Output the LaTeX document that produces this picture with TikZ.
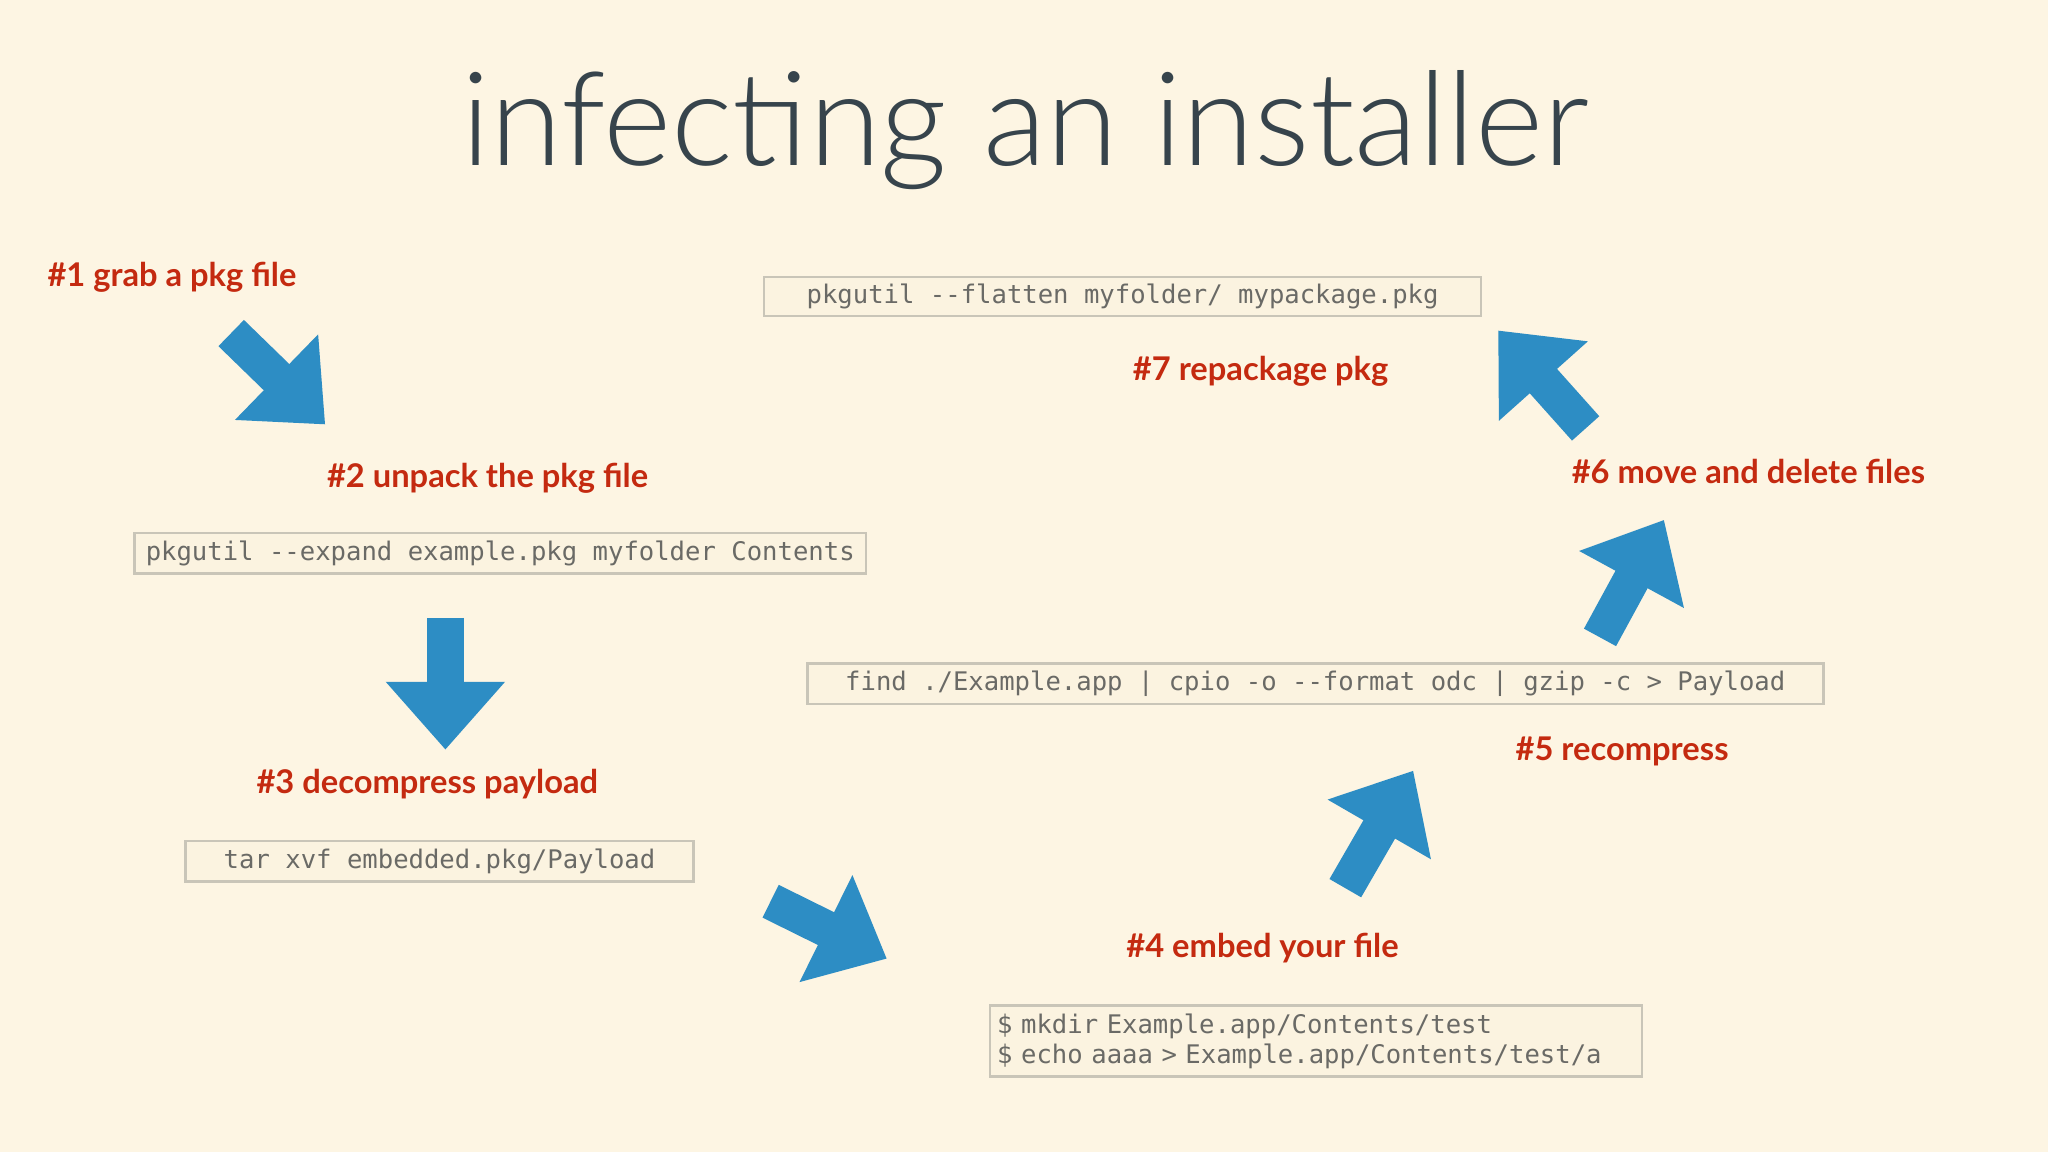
\documentclass[tikz,border=0pt]{standalone}
\usepackage{fontspec}
\setmainfont{Lato}
\newfontfamily\codefont{DejaVu Sans Mono}
\newfontfamily\titlefont{Lato Light}
\usetikzlibrary{arrows.meta}
\definecolor{bg}{HTML}{FDF5E3}
\definecolor{boxfill}{HTML}{FBF3E0}
\definecolor{boxline}{HTML}{C9C5B8}
\definecolor{codegray}{HTML}{6A6A66}
\definecolor{lblred}{HTML}{C42A10}
\definecolor{arrblue}{HTML}{2D8DC4}
\definecolor{titlecol}{HTML}{37444C}
\tikzset{
 codebox/.style={draw=boxline,line width=1pt,fill=boxfill,font=\codefont\fontsize{9.8}{11.5}\selectfont,text=codegray,inner sep=0pt,align=left},
 lbl/.style={font=\bfseries\fontsize{12.5}{14}\selectfont,text=lblred,anchor=west,inner sep=0pt},
 fat/.style={draw=arrblue,line width=14pt,-{Triangle[width=44pt,length=26pt]},arrblue}
}
\begin{document}
\begin{tikzpicture}[x=0.5pt,y=-0.5pt]
\fill[bg] (0,0) rectangle (1568,882);
\useasboundingbox (0,0) rectangle (1568,882);
\node[font=\titlefont\fontsize{50}{56}\selectfont,text=titlecol,anchor=base] (title) at (785,127) {infecting an installer};
% boxes
\node[codebox,minimum width=274.5pt,minimum height=15pt] (b7) at (859.5,227) {pkgutil --flatten myfolder/ mypackage.pkg};
\node[codebox,minimum width=280pt,minimum height=15.5pt] (b2) at (383,423.5) {pkgutil --expand example.pkg myfolder Contents};
\node[codebox,minimum width=194.5pt,minimum height=15.5pt] (b3) at (336.5,659.5) {tar xvf embedded.pkg/Payload};
\node[codebox,minimum width=389pt,minimum height=15.5pt] (b5) at (1007,523.5) {find ./Example.app | cpio -o --format odc | gzip -c > Payload};
\node[codebox,minimum width=249.5pt,minimum height=27pt,text width=244pt] (b4) at (1007.5,797) {\$ mkdir Example.app/Contents/test\\\$ echo aaaa > Example.app/Contents/test/a};
% labels
\node[lbl] (l1) at (36,212) {\#1 grab a pkg file};
\node[lbl] (l2) at (250,366) {\#2 unpack the pkg file};
\node[lbl] (l3) at (196,600) {\#3 decompress payload};
\node[lbl] (l4) at (862,726) {\#4 embed your file};
\node[lbl] (l5) at (1160,575) {\#5 recompress};
\node[lbl] (l6) at (1203,361) {\#6 move and delete files};
\node[lbl] (l7) at (867,284) {\#7 repackage pkg};
% arrows
\coordinate (a1s) at (177,255); \coordinate (a1e) at (249,325);
\coordinate (a2s) at (341,473); \coordinate (a2e) at (341,574);
\coordinate (a3s) at (590,690); \coordinate (a3e) at (679,734);
\coordinate (a4s) at (1030,680); \coordinate (a4e) at (1082,590);
\coordinate (a5s) at (1225,488); \coordinate (a5e) at (1274,398);
\coordinate (a6s) at (1214,328); \coordinate (a6e) at (1147,253);
\foreach \i in {1,...,6}{\draw[fat] (a\i s) -- (a\i e);}
\end{tikzpicture}
\end{document}
